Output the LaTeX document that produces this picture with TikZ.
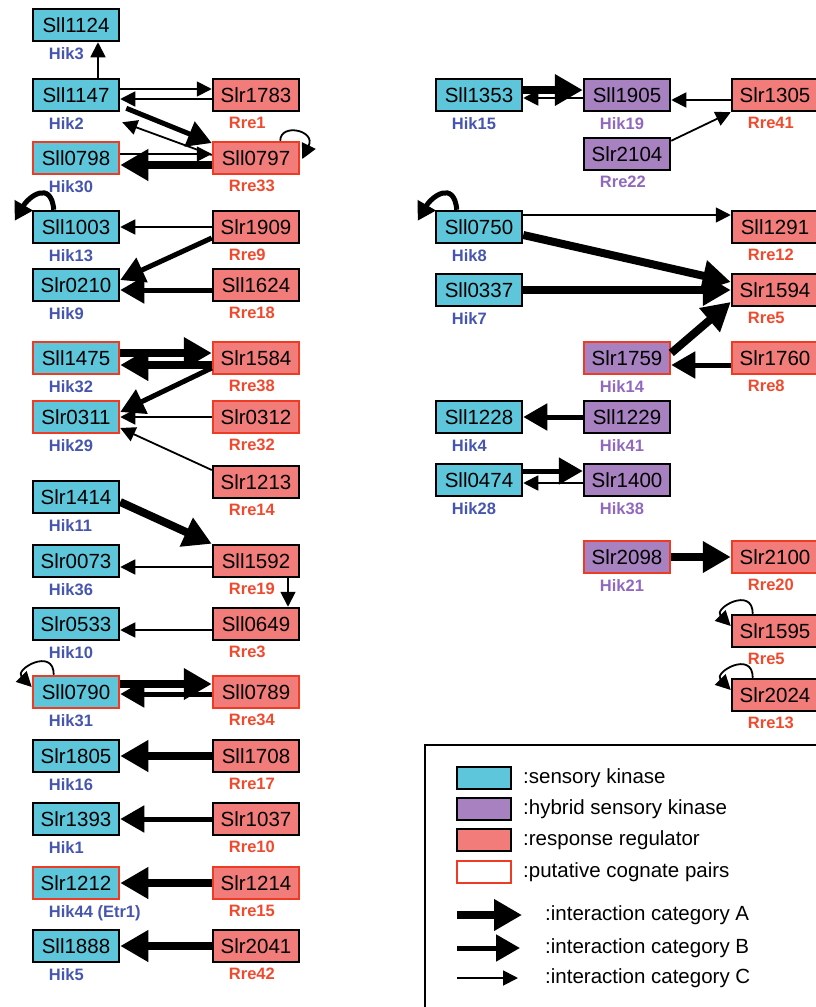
\documentclass[tikz,border=0pt]{standalone}
\usepackage{fontspec}
\setmainfont{Liberation Sans}
\usetikzlibrary{arrows.meta}

\definecolor{hkcyan}{HTML}{5EC6DA}
\definecolor{hypurple}{HTML}{A781C0}
\definecolor{rrsalmon}{HTML}{F27C7A}
\definecolor{cogred}{HTML}{EE3B24}
\definecolor{hikblue}{HTML}{4656AE}
\definecolor{rrelabel}{HTML}{F04A2E}
\definecolor{hylabel}{HTML}{9068BE}

\tikzset{
  protbox/.style={draw, line width=2.5pt, minimum width=86pt, minimum height=32pt,
    inner sep=0pt, font=\fontsize{20.5}{24}\selectfont},
  hk/.style={protbox, fill=hkcyan},
  hy/.style={protbox, fill=hypurple},
  rr/.style={protbox, fill=rrsalmon},
  cog/.style={draw=cogred},
  hikl/.style={inner sep=0pt, font=\fontsize{16.5}{18}\selectfont\bfseries, text=hikblue},
  rrel/.style={hikl, text=rrelabel},
  hyl/.style={hikl, text=hylabel},
  catA/.style={line width=8pt, -{Triangle[length=28pt,width=30pt]}},
  catB/.style={line width=5pt, -{Triangle[length=24pt,width=26pt]}},
  catC/.style={line width=1.8pt, -{Triangle[length=15pt,width=15pt]}},
  loopB/.style={line width=5pt, -{Triangle[length=18pt,width=20pt]}},
  legt/.style={anchor=west, inner sep=0pt, font=\fontsize{20.5}{24}\selectfont},
}

% box with its name, and the Hik/Rre label under it
\newcommand{\prot}[5]{%
  \node[#1] (#2) at (#3) {#2};
  \node[#4, anchor=north west] (#2-lab) at ([shift={(17,-5)}]#2.south west) {#5};}

\begin{document}
\begin{tikzpicture}[x=1pt, y=1pt]
  \useasboundingbox (0,0) rectangle (816,-1007);

  \prot{hk}{Sll1124}{76,-25}{hikl}{Hik3}
  \prot{hk}{Sll1147}{76,-95}{hikl}{Hik2}
  \prot{rr}{Slr1783}{256,-95}{rrel}{Rre1}
  \prot{hk,cog}{Sll0798}{76,-158}{hikl}{Hik30}
  \prot{rr,cog}{Sll0797}{256,-158}{rrel}{Rre33}
  \prot{hk}{Sll1003}{76,-227}{hikl}{Hik13}
  \prot{rr}{Slr1909}{256,-227}{rrel}{Rre9}
  \prot{hk}{Slr0210}{76,-285}{hikl}{Hik9}
  \prot{rr}{Sll1624}{256,-285}{rrel}{Rre18}
  \prot{hk,cog}{Sll1475}{76,-358}{hikl}{Hik32}
  \prot{rr,cog}{Slr1584}{256,-358}{rrel}{Rre38}
  \prot{hk,cog}{Slr0311}{76,-417}{hikl}{Hik29}
  \prot{rr,cog}{Slr0312}{256,-417}{rrel}{Rre32}
  \prot{rr}{Slr1213}{256,-482}{rrel}{Rre14}
  \prot{hk}{Slr1414}{76,-497}{hikl}{Hik11}
  \prot{hk}{Slr0073}{76,-561}{hikl}{Hik36}
  \prot{rr}{Sll1592}{256,-561}{rrel}{Rre19}
  \prot{hk}{Slr0533}{76,-624}{hikl}{Hik10}
  \prot{rr}{Sll0649}{256,-624}{rrel}{Rre3}
  \prot{hk,cog}{Sll0790}{76,-692}{hikl}{Hik31}
  \prot{rr,cog}{Sll0789}{256,-692}{rrel}{Rre34}
  \prot{hk}{Slr1805}{76,-756}{hikl}{Hik16}
  \prot{rr}{Sll1708}{256,-756}{rrel}{Rre17}
  \prot{hk}{Slr1393}{76,-819}{hikl}{Hik1}
  \prot{rr}{Slr1037}{256,-819}{rrel}{Rre10}
  \prot{hk,cog}{Slr1212}{76,-883}{hikl}{Hik44 (Etr1)}
  \prot{rr,cog}{Slr1214}{256,-883}{rrel}{Rre15}
  \prot{hk}{Sll1888}{76,-946}{hikl}{Hik5}
  \prot{rr}{Slr2041}{256,-946}{rrel}{Rre42}

  \prot{hk}{Sll1353}{479,-95}{hikl}{Hik15}
  \prot{hy}{Sll1905}{627,-95}{hyl}{Hik19}
  \prot{rr}{Slr1305}{775,-95}{rrel}{Rre41}
  \prot{hy}{Slr2104}{627,-154}{hyl}{Rre22}
  \prot{hk}{Sll0750}{479,-227}{hikl}{Hik8}
  \prot{rr}{Sll1291}{775,-227}{rrel}{Rre12}
  \prot{hk}{Sll0337}{479,-290}{hikl}{Hik7}
  \prot{rr}{Slr1594}{775,-290}{rrel}{Rre5}
  \prot{hy,cog}{Slr1759}{627,-358}{hyl}{Hik14}
  \prot{rr,cog}{Slr1760}{775,-358}{rrel}{Rre8}
  \prot{hk}{Sll1228}{479,-417}{hikl}{Hik4}
  \prot{hy}{Sll1229}{627,-417}{hyl}{Hik41}
  \prot{hk}{Sll0474}{479,-480}{hikl}{Hik28}
  \prot{hy}{Slr1400}{627,-480}{hyl}{Hik38}
  \prot{hy,cog}{Slr2098}{627,-557}{hyl}{Hik21}
  \prot{rr,cog}{Slr2100}{775,-557}{rrel}{Rre20}
  \prot{rr}{Slr1595}{775,-631}{rrel}{Rre5}
  \prot{rr}{Slr2024}{775,-695}{rrel}{Rre13}

  % left group
  \draw[catC] ([xshift=22]Sll1147.north) -- ([xshift=22]Sll1124.south);
  \draw[catC] ([yshift=6]Sll1147.east) -- ([yshift=6]Slr1783.west);
  \draw[catC] ([yshift=-4]Slr1783.west) -- ([yshift=-4]Sll1147.east);
  \draw[catB] ([shift={(6,4)}]Sll1147.south east) -- ([yshift=15]Sll0797.west);
  \draw[catC] ([yshift=3]Sll0797.west) -- ([shift={(2,-10)}]Sll1147.south east);
  \draw[catC] ([yshift=4]Sll0798.east) -- ([yshift=4]Sll0797.west);
  \draw[catA] ([yshift=-7]Sll0797.west) -- ([yshift=-7]Sll0798.east);
  \draw[catC] ([xshift=-20]Sll0797.north east) to[out=90, in=64, out distance=18pt, in distance=32pt] ([shift={(2,-1)}]Sll0797.east);
  \draw[loopB] ([xshift=22]Sll1003.north west) to[out=95, in=60, out distance=30pt, in distance=28pt] ([shift={(-17,-11)}]Sll1003.north west);
  \draw[catC] (Slr1909) -- (Sll1003);
  \draw[catB] ([yshift=-11]Slr1909.west) -- ([yshift=5]Slr0210.east);
  \draw[catB] ([yshift=-5]Sll1624.west) -- ([yshift=-5]Slr0210.east);
  \draw[catA] ([yshift=5]Sll1475.east) -- ([yshift=5]Slr1584.west);
  \draw[catA] ([yshift=-7]Slr1584.west) -- ([yshift=-7]Sll1475.east);
  \draw[catB] ([yshift=-10]Slr1584.west) -- ([yshift=5]Slr0311.east);
  \draw[catC] (Slr0312) -- (Slr0311);
  \draw[catC] ([yshift=12]Slr1213.west) -- ([yshift=-11]Slr0311.east);
  \draw[catA] ([yshift=-5]Slr1414.east) -- (Sll1592.north west);
  \draw[catC] ([yshift=-6]Sll1592.west) -- ([yshift=-6]Slr0073.east);
  \draw[catC] ([xshift=32]Sll1592.south) -- ([xshift=32]Sll0649.north);
  \draw[catC] ([yshift=-6]Sll0649.west) -- ([yshift=-6]Slr0533.east);
  \draw[catC] ([xshift=22]Sll0790.north west) to[out=90, in=135, out distance=28pt, in distance=25pt] ([yshift=5]Sll0790.west);
  \draw[catA] ([yshift=8]Sll0790.east) -- ([yshift=8]Sll0789.west);
  \draw[catB] ([yshift=-2]Sll0789.west) -- ([yshift=-2]Sll0790.east);
  \draw[catA] (Sll1708) -- (Slr1805);
  \draw[catB] (Slr1037) -- (Slr1393);
  \draw[catA] (Slr1214) -- (Slr1212);
  \draw[catA] (Slr2041) -- (Sll1888);

  % right group
  \draw[catA] ([yshift=5]Sll1353.east) -- ([yshift=5]Sll1905.west);
  \draw[catC] ([yshift=-3]Sll1905.west) -- ([yshift=-3]Sll1353.east);
  \draw[catC] ([yshift=-5]Slr1305.west) -- ([yshift=-5]Sll1905.east);
  \draw[catC] ([yshift=-4]Slr2104.north east) -- (Slr1305.south west);
  \draw[loopB] ([xshift=22]Sll0750.north west) to[out=95, in=60, out distance=30pt, in distance=28pt] ([shift={(-17,-11)}]Sll0750.north west);
  \draw[catC] ([yshift=12]Sll0750.east) -- ([yshift=12]Sll1291.west);
  \draw[catA] ([yshift=-8]Sll0750.east) -- ([yshift=8]Slr1594.west);
  \draw[catA] (Sll0337) -- (Slr1594);
  \draw[catA] ([yshift=5]Slr1759.east) -- ([yshift=-12]Slr1594.west);
  \draw[catB] ([yshift=-7]Slr1760.west) -- ([yshift=-7]Slr1759.east);
  \draw[catB] (Sll1229) -- (Sll1228);
  \draw[catB] ([yshift=9]Sll0474.east) -- ([yshift=9]Slr1400.west);
  \draw[catC] ([yshift=-3]Slr1400.west) -- ([yshift=-3]Sll0474.east);
  \draw[catA] (Slr2098) -- (Slr2100);
  \draw[catC] ([xshift=22]Slr1595.north west) to[out=90, in=135, out distance=28pt, in distance=25pt] ([yshift=5]Slr1595.west);
  \draw[catC] ([xshift=22]Slr2024.north west) to[out=90, in=135, out distance=28pt, in distance=25pt] ([yshift=5]Slr2024.west);

  % legend
  \draw[line width=2.5pt] (425,-745) rectangle (840,-1030);
  \node[hk, minimum width=54pt, minimum height=22pt] (keyhk) at (484,-778) {};
  \node[hy, minimum width=54pt, minimum height=22pt] (keyhy) at (484,-809) {};
  \node[rr, minimum width=54pt, minimum height=22pt] (keyrr) at (484,-840) {};
  \node[protbox, cog, minimum width=54pt, minimum height=22pt] (keycog) at (484,-872) {};
  \node[legt] (keyhk-t) at (523,-778) {:sensory kinase};
  \node[legt] (keyhy-t) at (523,-809) {:hybrid sensory kinase};
  \node[legt] (keyrr-t) at (523,-840) {:response regulator};
  \node[legt] (keycog-t) at (523,-872) {:putative cognate pairs};
  \coordinate (ka1) at (457,-915); \coordinate (ka2) at (522,-915);
  \coordinate (kb1) at (457,-948); \coordinate (kb2) at (520,-948);
  \coordinate (kc1) at (457,-978); \coordinate (kc2) at (518,-978);
  \draw[catA] (ka1) -- (ka2);
  \draw[catB] (kb1) -- (kb2);
  \draw[catC] (kc1) -- (kc2);
  \node[legt] (keya-t) at (545,-915) {:interaction category A};
  \node[legt] (keyb-t) at (545,-948) {:interaction category B};
  \node[legt] (keyc-t) at (545,-978) {:interaction category C};
\end{tikzpicture}
\end{document}
